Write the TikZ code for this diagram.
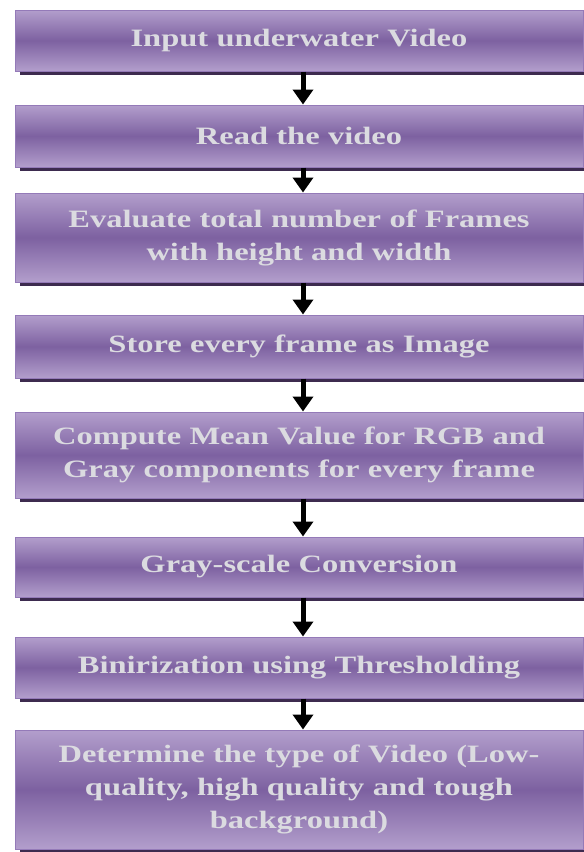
\documentclass[tikz,border=0pt]{standalone}
\usepackage{fontspec}
\newfontfamily\stepfont[FakeStretch=1.3]{Liberation Serif}
\usepackage{xcolor}
\definecolor{lilac}{rgb}{0.70,0.62,0.80}
\definecolor{darklilac}{rgb}{0.49,0.38,0.63}
\definecolor{lilacedge}{rgb}{0.58,0.48,0.72}
\definecolor{shadowpurple}{rgb}{0.24,0.17,0.31}
\definecolor{paletext}{rgb}{0.86,0.86,0.88}
\usetikzlibrary{arrows.meta, shadows}

\begin{document}
\begin{tikzpicture}
    [x=1pt, y=-1pt,
     stepbox/.style={draw=lilacedge, line width=1pt,
        top color=lilac, bottom color=lilac, middle color=darklilac,
        minimum width=568pt, text width=555pt, align=center, inner sep=0pt,
        text=paletext, font=\stepfont\bfseries\fontsize{25}{33}\selectfont,
        drop shadow={shadow xshift=5pt, shadow yshift=-4pt,
                     fill=shadowpurple, opacity=1}},
     flow/.style={line width=5pt, -{Triangle[width=20pt, length=15pt]}}]
    \useasboundingbox (0,0) rectangle (584,852);
    \node[stepbox, minimum height=61pt] (input) at (299,40.5)
        {Input underwater Video};
    \node[stepbox, minimum height=62pt] (read) at (299,136)
        {Read the video};
    \node[stepbox, minimum height=89pt] (count) at (299,237.5)
        {Evaluate total number of Frames\\ with height and width};
    \node[stepbox, minimum height=63pt] (store) at (299,346.5)
        {Store every frame as Image};
    \node[stepbox, minimum height=86pt] (mean) at (299,455)
        {Compute Mean Value for RGB and\\ Gray components for every frame};
    \node[stepbox, minimum height=60pt] (gray) at (299,567)
        {Gray-scale Conversion};
    \node[stepbox, minimum height=61pt] (binary) at (299,667.5)
        {Binirization using Thresholding};
    \node[stepbox, minimum height=119pt] (type) at (299,789.5)
        {Determine the type of Video (Low-\\ quality, high quality and tough\\ background)};
    % arrows
    \draw[flow] ([xshift=4pt]input.south) -- ([xshift=4pt]read.north);
    \draw[flow] ([xshift=4pt]read.south) -- ([xshift=4pt]count.north);
    \draw[flow] ([xshift=4pt]count.south) -- ([xshift=4pt]store.north);
    \draw[flow] ([xshift=4pt]store.south) -- ([xshift=4pt]mean.north);
    \draw[flow] ([xshift=4pt]mean.south) -- ([xshift=4pt]gray.north);
    \draw[flow] ([xshift=4pt]gray.south) -- ([xshift=4pt]binary.north);
    \draw[flow] ([xshift=4pt]binary.south) -- ([xshift=4pt]type.north);
\end{tikzpicture}
\end{document}
